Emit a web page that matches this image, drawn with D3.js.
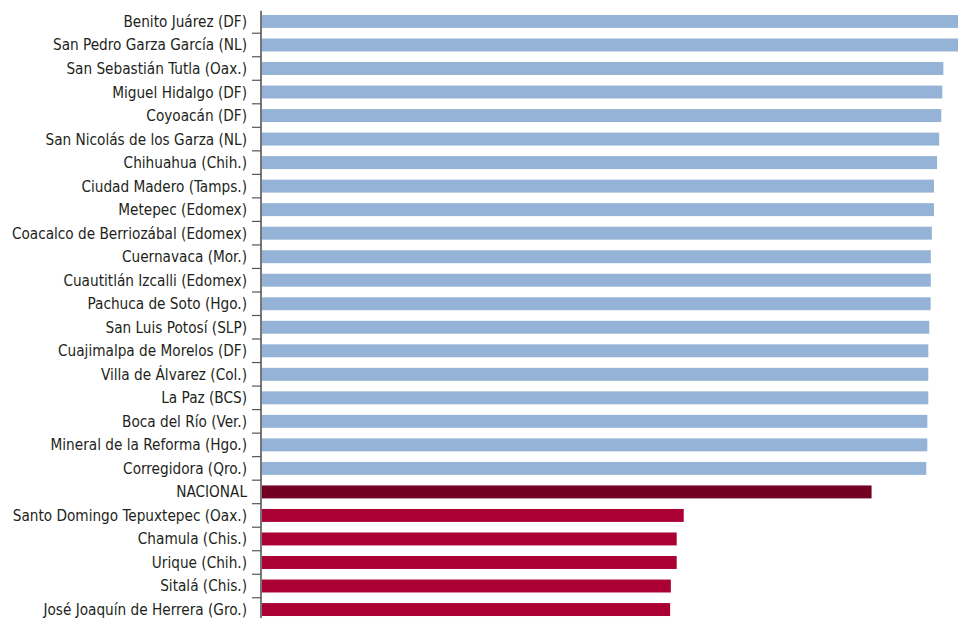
<!DOCTYPE html>
<html>
<head>
<meta charset="utf-8">
<script src="https://cdn.jsdelivr.net/npm/d3@7"></script>
<style>
  html, body { margin: 0; padding: 0; background: #ffffff; }
  svg { display: block; }
</style>
</head>
<body>
<svg id="chart" width="958" height="618"></svg>
<script>
const categories = [
  "Benito Juárez (DF)",
  "San Pedro Garza García (NL)",
  "San Sebastián Tutla (Oax.)",
  "Miguel Hidalgo (DF)",
  "Coyoacán (DF)",
  "San Nicolás de los Garza (NL)",
  "Chihuahua (Chih.)",
  "Ciudad Madero (Tamps.)",
  "Metepec (Edomex)",
  "Coacalco de Berriozábal (Edomex)",
  "Cuernavaca (Mor.)",
  "Cuautitlán Izcalli (Edomex)",
  "Pachuca de Soto (Hgo.)",
  "San Luis Potosí (SLP)",
  "Cuajimalpa de Morelos (DF)",
  "Villa de Álvarez (Col.)",
  "La Paz (BCS)",
  "Boca del Río (Ver.)",
  "Mineral de la Reforma (Hgo.)",
  "Corregidora (Qro.)",
  "NACIONAL",
  "Santo Domingo Tepuxtepec (Oax.)",
  "Chamula (Chis.)",
  "Urique (Chih.)",
  "Sitalá (Chis.)",
  "José Joaquín de Herrera (Gro.)"
];
const values = [
  1.000, 1.000, 0.979, 0.9775, 0.976, 0.973, 0.970, 0.9655, 0.9655, 0.9625,
  0.961, 0.961, 0.9608, 0.9588, 0.9574, 0.9574, 0.9574, 0.956, 0.956, 0.9545,
  0.876, 0.6065, 0.5964, 0.5964, 0.588, 0.587
];
const groups = [
  "top","top","top","top","top","top","top","top","top","top",
  "top","top","top","top","top","top","top","top","top","top",
  "nacional","bottom","bottom","bottom","bottom","bottom"
];
const groupColors = { top: "#95b3d7", nacional: "#720022", bottom: "#aa0033" };

const data = categories.map((c, i) => ({ name: c, value: values[i], group: groups[i] }));

const svg = d3.select("#chart");
const axisX = 261;

const x = d3.scaleLinear().domain([0, 1]).range([axisX, 958]);
const y = d3.scaleBand().domain(categories).range([9.7, 621.3]).paddingInner(0.45).paddingOuter(0.225);

// bars
svg.append("g").selectAll("rect").data(data).join("rect")
  .attr("x", x(0) + 1)
  .attr("y", d => y(d.name))
  .attr("width", d => Math.max(0, x(d.value) - x(0) - 1))
  .attr("height", y.bandwidth())
  .attr("fill", d => groupColors[d.group]);

// axis
const step = y.step();
const boundaries = categories.slice(1).map(c => y(c) - (step - y.bandwidth()) / 2);
const axisG = svg.append("g");
axisG.append("line")
  .attr("x1", axisX).attr("x2", axisX)
  .attr("y1", y.range()[0] + 1).attr("y2", 618)
  .attr("stroke", "#555").attr("stroke-width", 1.6);
axisG.selectAll("line.tick").data(boundaries).join("line")
  .attr("class", "tick")
  .attr("x1", axisX - 9).attr("x2", axisX)
  .attr("y1", d => d).attr("y2", d => d)
  .attr("stroke", "#555").attr("stroke-width", 1.2);

// labels
svg.append("g").selectAll("text").data(data).join("text")
  .attr("x", 247)
  .attr("y", d => y(d.name) + y.bandwidth() / 2)
  .attr("dy", "0.36em")
  .attr("text-anchor", "end")
  .attr("font-family", "'DejaVu Sans Condensed', 'Liberation Sans Narrow', sans-serif")
  .attr("font-size", 15.2)
  .attr("fill", "#231f20")
  .text(d => d.name);
</script>
</body>
</html>
